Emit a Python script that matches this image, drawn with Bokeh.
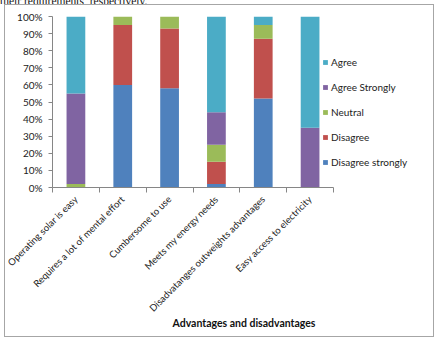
from bokeh.plotting import figure
from bokeh.layouts import column
from bokeh.models import (Range1d, FixedTicker, PrintfTickFormatter, Legend,
                          LegendItem, ColumnDataSource, Div)
from bokeh.embed import file_html
from bokeh.resources import INLINE
import math

# Survey responses (% of respondents) per statement
statements = [
    "Operating solar is easy",
    "Requires a lot of mental effort",
    "Cumbersome to use",
    "Meets my energy needs",
    "Disadvatanges outweights advantages",
    "Easy access to electricity",
]
disagree_strongly = [0, 60, 58, 2, 52, 0]
disagree = [0, 35, 35, 13, 35, 0]
neutral = [2, 5, 7, 10, 8, 0]
agree_strongly = [53, 0, 0, 19, 0, 35]
agree = [45, 0, 0, 56, 5, 65]

series = ["Disagree strongly", "Disagree", "Neutral", "Agree Strongly", "Agree"]
colors = ["#4F81BD", "#C0504D", "#9BBB59", "#8064A2", "#4BACC6"]
y_ticks = list(range(0, 101, 10))

FONT = "Lato"

n = len(statements)
x_pos = [i + 0.5 for i in range(n)]
source = ColumnDataSource(dict(
    x=x_pos,
    **{"Disagree strongly": disagree_strongly, "Disagree": disagree,
       "Neutral": neutral, "Agree Strongly": agree_strongly, "Agree": agree},
))

# canvas geometry: the frame runs to the right edge so the legend can sit
# inside it; the x axis line itself stops after the last category
W, H = 430, 333
LEFT, TOP, BOTTOM = 47, 11, 151
AXIS_PX = 281
frame_w = W - LEFT
x_end = n * frame_w / AXIS_PX

p = figure(width=W, height=H, output_backend="svg", toolbar_location=None,
           x_range=Range1d(0, x_end), y_range=Range1d(0, 100),
           min_border_left=LEFT, min_border_right=0, min_border_top=TOP,
           min_border_bottom=BOTTOM)
p.outline_line_color = None
p.grid.visible = False
p.background_fill_color = "white"
p.border_fill_color = "white"
p.margin = (0, 0, 0, 4)
p.styles = {"border": "1.5px solid #A6A6A6"}

renderers = p.vbar_stack(series, x="x", width=0.4, color=colors, source=source,
                         line_color=None)

# y axis: percentages
ya = p.yaxis[0]
ya.ticker = FixedTicker(ticks=y_ticks)
ya.formatter = PrintfTickFormatter(format="%d%%")
ya.axis_line_color = "#868686"
ya.major_tick_line_color = "#868686"
ya.major_tick_out = 4
ya.major_tick_in = 0
ya.minor_tick_line_color = None
ya.major_label_standoff = 6
ya.major_label_text_font = FONT
ya.major_label_text_font_size = "10px"
ya.major_label_text_color = "#222222"

# x axis: labels at bar centres, tick marks between categories
xa = p.xaxis[0]
xa.bounds = (0, n)
xa.ticker = FixedTicker(ticks=x_pos, minor_ticks=list(range(n + 1)))
xa.major_label_overrides = {x: s for x, s in zip(x_pos, statements)}
xa.major_label_orientation = math.pi / 4
xa.major_tick_line_color = None
xa.major_tick_out = 0
xa.major_tick_in = 0
xa.minor_tick_line_color = "#868686"
xa.minor_tick_out = 5
xa.minor_tick_in = 0
xa.axis_line_color = "#868686"
xa.major_label_standoff = 5
xa.major_label_text_font = FONT
xa.major_label_text_font_size = "9.5px"
xa.major_label_text_color = "#222222"
xa.axis_label = "Advantages and disadvantages"
xa.axis_label_text_font = FONT
xa.axis_label_text_font_style = "bold"
xa.axis_label_text_font_size = "10.5px"
xa.axis_label_text_color = "#111111"
xa.axis_label_standoff = -3

# legend, top entry = last stacked series
items = [LegendItem(label=s, renderers=[r]) for s, r in zip(series, renderers)][::-1]
legend = Legend(items=items, location=(270, 19), padding=0, margin=0,
                glyph_width=6, glyph_height=6, label_height=12, spacing=13,
                label_standoff=3, label_text_font=FONT, label_text_font_size="10px",
                label_text_color="#222222", border_line_color=None,
                background_fill_alpha=0)
p.add_layout(legend)

# running text of the page above the chart (only its lower edge shows)
head = Div(text='<span style="position:relative;top:-7px;display:block;'
                'font-family:\'Liberation Serif\',serif;font-size:11.5px;'
                'line-height:13px;color:#111;white-space:nowrap">'
                'their requirements, respectively.</span>',
           width=439, height=4, margin=(0, 0, 0, 0),
           styles={"overflow": "hidden"})

layout = column(head, p, spacing=0)

open("out.html", "w").write(file_html(layout, INLINE))
